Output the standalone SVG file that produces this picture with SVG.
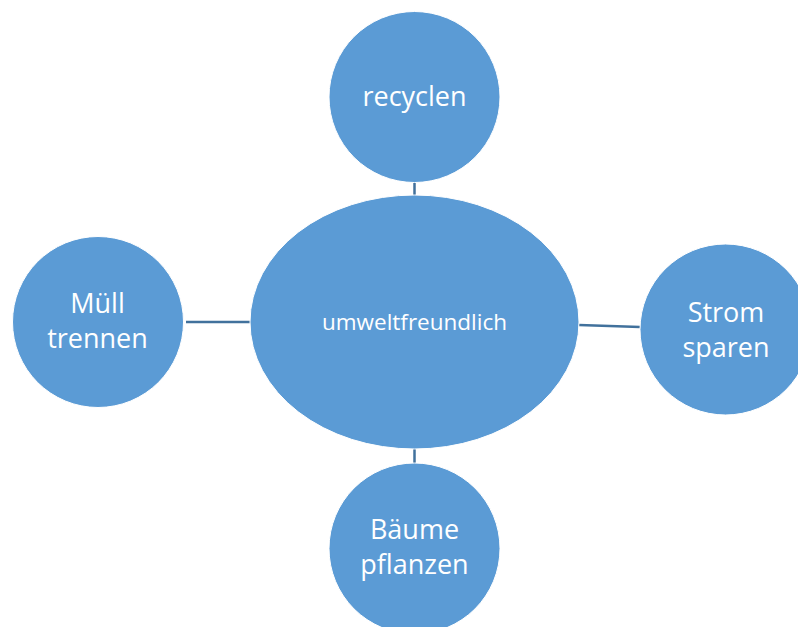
<svg xmlns="http://www.w3.org/2000/svg" width="798" height="627" viewBox="0 0 798 627">
<style>
.node{fill:#5B9BD5;stroke:#ffffff;stroke-width:1}
.lbl{font-family:"Open Sans","Noto Sans","Liberation Sans",sans-serif;fill:#ffffff;text-anchor:middle;font-size:27px}
.conn{stroke:#41719C;stroke-width:2.5;fill:none}
</style>
<rect width="798" height="627" fill="#ffffff"/>
<g id="connectors">
<line class="conn" x1="414.5" y1="182" x2="414.5" y2="195"/>
<line class="conn" x1="186" y1="322" x2="250" y2="322"/>
<line class="conn" x1="579" y1="325" x2="640" y2="327"/>
<line class="conn" x1="414.5" y1="449" x2="414.5" y2="463"/>
</g>
<g id="center">
<ellipse class="node" cx="414.5" cy="322" rx="164.5" ry="127"/>
<text class="lbl" x="414.5" y="330" style="font-size:22.5px">umweltfreundlich</text>
</g>
<g id="recyclen">
<circle class="node" cx="414.5" cy="97" r="85.5"/>
<text class="lbl" x="414.5" y="106">recyclen</text>
</g>
<g id="muell">
<circle class="node" cx="98" cy="322" r="85.5"/>
<text class="lbl" x="97.5" y="313">Müll</text>
<text class="lbl" x="97.5" y="348">trennen</text>
</g>
<g id="strom">
<circle class="node" cx="725.5" cy="329.5" r="85.5"/>
<text class="lbl" x="726" y="321.5">Strom</text>
<text class="lbl" x="726" y="357">sparen</text>
</g>
<g id="baeume">
<circle class="node" cx="414.5" cy="548.5" r="85.5"/>
<text class="lbl" x="414.5" y="538.5">Bäume</text>
<text class="lbl" x="414.5" y="574">pflanzen</text>
</g>
</svg>
